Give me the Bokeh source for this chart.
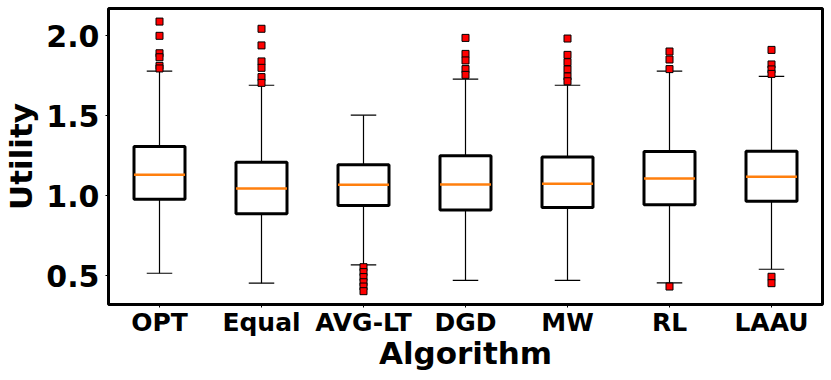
import numpy as np
from bokeh.plotting import figure
from bokeh.models import FixedTicker, Range1d
from bokeh.embed import file_html
from bokeh.resources import INLINE

# ---- data ----
algorithms = ["OPT", "Equal", "AVG-LT", "DGD", "MW", "RL", "LAAU"]
q1 = [0.977, 0.886, 0.938, 0.910, 0.925, 0.942, 0.964]
median = [1.129, 1.044, 1.067, 1.069, 1.073, 1.106, 1.117]
q3 = [1.306, 1.208, 1.192, 1.248, 1.240, 1.275, 1.277]
whisker_low = [0.514, 0.452, 0.567, 0.469, 0.469, 0.454, 0.539]
whisker_high = [1.777, 1.689, 1.502, 1.727, 1.689, 1.777, 1.744]
outliers = [
    [2.087, 1.998, 1.889, 1.864, 1.810, 1.794],
    [2.042, 1.938, 1.838, 1.798, 1.740, 1.704],
    [0.552, 0.521, 0.490, 0.458, 0.431, 0.402],
    [1.985, 1.885, 1.844, 1.790, 1.754],
    [1.981, 1.879, 1.833, 1.788, 1.744, 1.714],
    [1.900, 1.850, 1.790, 0.431],
    [1.910, 1.819, 1.788, 1.760, 0.492, 0.452],
]
y_ticks = [0.5, 1.0, 1.5, 2.0]

pos = np.arange(1, len(algorithms) + 1)
box_w = 0.5
cap_w = 0.25

p = figure(width=831, height=380, output_backend="svg", toolbar_location=None,
           x_range=Range1d(0.5, 7.5), y_range=Range1d(0.31875, 2.16875),
           min_border_left=108, min_border_right=9, min_border_top=8, min_border_bottom=76)
p.background_fill_color = "white"
p.border_fill_color = "white"
p.grid.visible = False
p.outline_line_color = "black"
p.outline_line_width = 3

# whiskers
p.segment(x0=pos, x1=pos, y0=q3, y1=whisker_high, line_color="black", line_width=1.2)
p.segment(x0=pos, x1=pos, y0=q1, y1=whisker_low, line_color="black", line_width=1.2)
p.segment(x0=pos - cap_w / 2, x1=pos + cap_w / 2, y0=whisker_high, y1=whisker_high,
          line_color="black", line_width=1.2)
p.segment(x0=pos - cap_w / 2, x1=pos + cap_w / 2, y0=whisker_low, y1=whisker_low,
          line_color="black", line_width=1.2)
# boxes
p.vbar(x=pos, width=box_w, bottom=q1, top=q3, fill_color="white",
       line_color="black", line_width=3)
# medians
p.segment(x0=pos - box_w / 2, x1=pos + box_w / 2, y0=median, y1=median,
          line_color="#ff7f0e", line_width=2.5)
# outliers
ox = [pos[i] for i, vals in enumerate(outliers) for _ in vals]
oy = [v for vals in outliers for v in vals]
p.scatter(x=ox, y=oy, marker="square", size=7, fill_color="red",
          line_color="black", line_width=1)

# axes
p.xaxis.ticker = FixedTicker(ticks=list(pos))
p.xaxis.major_label_overrides = {int(k): v for k, v in zip(pos, algorithms)}
p.yaxis.ticker = FixedTicker(ticks=y_ticks)
p.yaxis.major_label_overrides = {t: f"{t:.1f}" for t in y_ticks}
for ax in (p.xaxis, p.yaxis):
    ax.axis_line_color = None
    ax.major_tick_line_color = "black"
    ax.major_tick_line_width = 1
    ax.major_tick_in = 0
    ax.major_tick_out = 3
    ax.minor_tick_line_color = None
    ax.major_label_text_font = "DejaVu Sans"
    ax.major_label_text_font_style = "bold"
    ax.major_label_text_color = "black"
    ax.axis_label_text_font = "DejaVu Sans"
    ax.axis_label_text_font_style = "bold"
    ax.axis_label_text_color = "black"
    ax.axis_label_text_font_size = "31px"
p.xaxis.major_label_text_font_size = "25px"
p.yaxis.major_label_text_font_size = "30px"
p.xaxis.axis_label = "Algorithm"
p.yaxis.axis_label = "Utility"
p.xaxis.major_label_standoff = 0
p.yaxis.major_label_standoff = 6
p.xaxis.axis_label_standoff = -5
p.yaxis.axis_label_standoff = 4

open("out.html", "w").write(file_html(p, INLINE))
